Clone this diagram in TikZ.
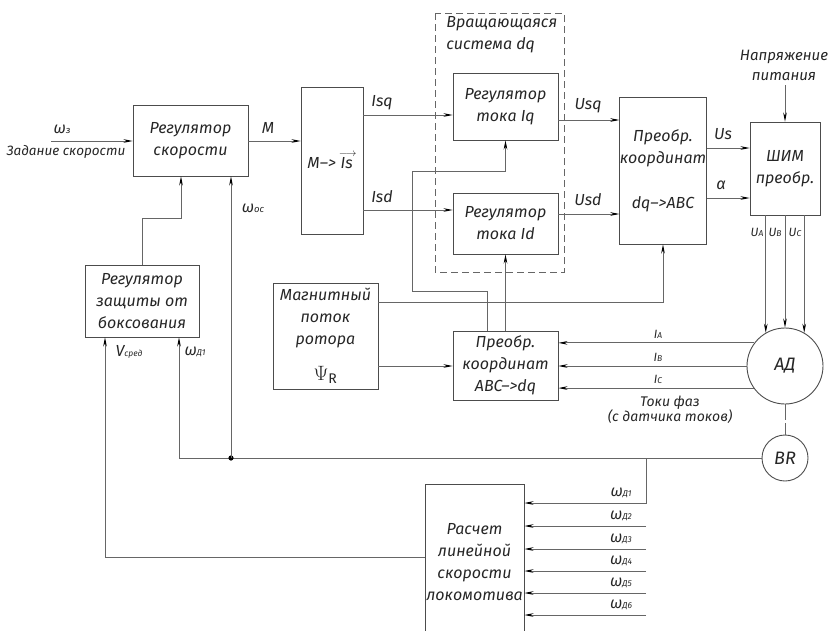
\documentclass[tikz,border=0pt]{standalone}
\usepackage{fontspec}
\setmainfont{Fira Sans}
\usetikzlibrary{arrows.meta,calc}
\newcommand\sbs[1]{{\fontsize{9.5}{9}\selectfont #1}}
\newcommand\ssbs[1]{{\fontsize{8.5}{8}\selectfont #1}}
\begin{document}
\begin{tikzpicture}[x=1pt,y=-1pt,
  line width=0.8pt,
  every node/.style={font=\fontsize{16}{22}\selectfont\itshape, text=black!85},
  blk/.style={draw=black!70, line width=0.9pt, align=center, inner sep=0pt},
  ln/.style={draw=black!60, line width=0.8pt},
  arr/.style={ln, -{Stealth[length=9pt,width=3.6pt,color=black]}},
  lbl/.style={inner sep=0pt},
  sml/.style={inner sep=0pt, font=\fontsize{12}{14}\selectfont\itshape},
]
\clip (0,0) rectangle (828,630);
% blocks
\node[blk, minimum width=115pt, minimum height=71pt] (rs) at (190.5,140.5) {Регулятор\\скорости};
\node[blk, minimum width=62pt, minimum height=147pt] (mis) at (332,160.5) {M–>\kern1pt\vbox{\offinterlineskip\halign{\hfil#\hfil\cr\kern2pt$\scriptstyle\longrightarrow$\cr\noalign{\kern1pt}\itshape Is\cr}}};
\node[blk, minimum width=105pt, minimum height=67pt] (riq) at (505.5,106.5) {Регулятор\\тока Iq};
\node[blk, minimum width=105pt, minimum height=61pt] (rid) at (505.5,223.5) {Регулятор\\тока Id};
\node[blk, minimum width=86pt, minimum height=147pt] (dqabc) at (663,170.5) {Преобр.\\координат\\[23pt]dq–>ABC};
\node[blk, minimum width=70pt, minimum height=93pt] (shim) at (785,168.5) {ШИМ\\преобр.};
\node[blk, minimum width=114pt, minimum height=72pt] (rz) at (142,301) {Регулятор\\защиты от\\боксования};
\node[blk, minimum width=105pt, minimum height=106pt] (mag) at (325.5,336) {Магнитный\\поток\\ротора\\[14pt]{\fontsize{20}{20}\selectfont$\Psi_{\mathrm{R}}$}};
\node[blk, minimum width=105pt, minimum height=69pt] (abcdq) at (505.5,365.5) {Преобр.\\координат\\ABC–>dq};
\node[blk, circle, minimum size=76pt, font=\fontsize{18}{20}\selectfont\itshape] (ad) at (785,366) {АД};
\node[blk, circle, minimum size=46pt, font=\fontsize{18}{20}\selectfont\itshape] (br) at (785,458) {BR};
\node[blk, minimum width=99pt, minimum height=156pt] (calc) at (474.5,562) {Расчет\\линейной\\скорости\\локомотива};
% rotating frame
\draw[draw=black!60, line width=0.8pt, dash pattern=on 7pt off 4pt] (435,13) rectangle (564,272);
\node[lbl, anchor=north west, align=left] at (446,16) {Вращающаяся\\система dq};
% connectors
\coordinate (win) at (51,141);
\draw[arr] (win) -- (win -| rs.west);
\draw[arr] (rs.east |- win) -- (mis.west |- win);
\draw[arr] (mis.east |- 0,115) -- (riq.west |- 0,115);
\draw[arr] (mis.east |- 0,210) -- (rid.west |- 0,210);
\draw[arr] (riq.east |- 0,120) -- (dqabc.west |- 0,120);
\draw[arr] (rid.east |- 0,214) -- (dqabc.west |- 0,214);
\draw[arr] (dqabc.east |- 0,148) -- (shim.west |- 0,148);
\draw[arr] (dqabc.east |- 0,198) -- (shim.west |- 0,198);
\coordinate (vin) at (785,85);
\draw[arr] (vin) -- (shim.north);
\foreach \a in {120,90,60} \draw[arr] (shim.south -| ad.\a) -- (ad.\a);
\draw[arr] (ad.143) -- (abcdq.east |- ad.143);
\draw[arr] (ad.west) -- (abcdq.east |- ad.west);
\draw[arr] (ad.215) -- (abcdq.east |- ad.215);
\draw[ln, dash pattern=on 16pt off 3pt] (ad.south) -- (br.north);
\coordinate (fbL) at (179,458);
\coordinate (dot) at (231,458);
\coordinate (fbR) at (646,458);
\draw[arr] (br.west) -- (fbL) -- (fbL |- rz.south);
\fill[black] (dot) circle (2.6pt);
\draw[arr] (dot) -- (dot |- rs.south);
\coordinate (w1) at (646,503);
\draw[arr] (fbR) -- (w1) -- (w1 -| calc.east);
\foreach \i/\y in {2/526,3/549,4/571,5/593,6/615} {
  \coordinate (w\i) at (646,\y);
  \draw[arr] (w\i) -- (w\i -| calc.east);
}
\foreach \i/\y in {1/503,2/526,3/549,4/571,5/593,6/615}
  \node[lbl] at (621,\y-10) {ω\ssbs{Д\i}};
\coordinate (vl) at (105,557);
\draw[arr] (calc.west |- vl) -- (vl) -- (vl |- rz.south);
\coordinate (rzup) at (142,218);
\coordinate (rzup2) at (181,218);
\draw[arr] (rz.north) -- (rzup) -- (rzup2) -- (rzup2 |- rs.south);
\draw[arr] (mag.east |- 0,366) -- (abcdq.west |- 0,366);
\coordinate (psi) at (663,302);
\draw[arr] (mag.east |- psi) -- (psi) -- (dqabc.south);
\draw[arr] (abcdq.north) -- (rid.south);
\coordinate (f1) at (487,291);
\coordinate (f2) at (412,291);
\coordinate (f3) at (412,171);
\draw[arr] (abcdq.north -| f1) -- (f1) -- (f2) -- (f3) -- (f3 -| riq.south) -- (riq.south);
% labels
\node[lbl] at (62,129) {ω\sbs{з}};
\node[lbl, font=\fontsize{13.5}{20}\selectfont\itshape] at (66,152) {Задание скорости};
\node[lbl] at (268,128) {M};
\node[lbl] at (253,208) {ω\sbs{ос}};
\node[lbl] at (382,103) {Isq};
\node[lbl] at (382,197) {Isd};
\node[lbl] at (588,106) {Usq};
\node[lbl] at (588,200) {Usd};
\node[lbl] at (723,134) {Us};
\node[lbl] at (721,185) {α};
\node[lbl, align=center, font=\fontsize{15}{20}\selectfont\itshape] at (784,65) {Напряжение\\питания};
\node[sml] at (757,232) {U\ssbs{A}};
\node[sml] at (775,232) {U\ssbs{B}};
\node[sml] at (795,232) {U\ssbs{C}};
\node[lbl] at (129,352) {V\ssbs{сред}};
\node[lbl] at (195,352) {ω\ssbs{Д1}};
\node[sml] at (658,334) {I\ssbs{A}};
\node[sml] at (658,357) {I\ssbs{B}};
\node[sml] at (658,379) {I\ssbs{C}};
\node[lbl, align=center, font=\fontsize{14}{15.5}\selectfont\itshape] at (670,410) {Токи фаз\\(с датчика токов)};
\end{tikzpicture}
\end{document}
